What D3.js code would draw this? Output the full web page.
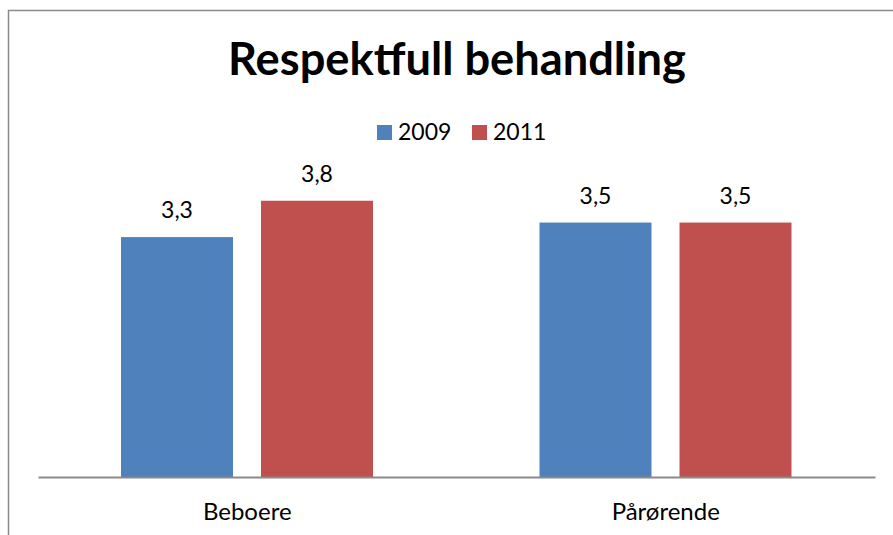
<!DOCTYPE html>
<html><head><meta charset="utf-8">
<script src="https://cdn.jsdelivr.net/npm/d3@7"></script>
<style>html,body{margin:0;padding:0;background:#fff;overflow:hidden}</style>
</head><body>
<svg id="c" width="893" height="535"></svg>
<script>
const title = "Respektfull behandling";
const categories = ["Beboere", "Pårørende"];
const seriesNames = ["2009", "2011"];
const values2009 = [3.3, 3.5];
const values2011 = [3.8, 3.5];
const colors = ["#4F81BD", "#C0504D"];

const svg = d3.select("#c");
const font = "Lato, 'Open Sans', sans-serif";

// outer border (extends beyond the frame on right/bottom)
svg.append("rect").attr("x", 8.5).attr("y", 10.5).attr("width", 900).attr("height", 600)
  .attr("fill", "#fff").attr("stroke", "#8a8a8a").attr("stroke-width", 1.5);

const plot = {left: 38, right: 875, bottom: 477};
const x0 = d3.scaleBand().domain(categories).range([plot.left, plot.right]).paddingInner(0).paddingOuter(0);
const x1 = d3.scaleBand().domain(seriesNames).range([83, 83 + 252]).paddingInner(28/140).paddingOuter(0);
const y = d3.scaleLinear().domain([0, 4.5]).range([plot.bottom, plot.bottom - 4.5 * 72.7]);

const data = categories.map((c, i) => ({cat: c, vals: [values2009[i], values2011[i]]}));

const g = svg.append("g");
const groups = g.selectAll("g.cat").data(data).join("g").attr("transform", d => `translate(${x0(d.cat)},0)`);
groups.selectAll("rect").data(d => d.vals.map((v, j) => ({s: seriesNames[j], v, j})))
  .join("rect")
  .attr("x", d => x1(d.s)).attr("width", x1.bandwidth())
  .attr("y", d => y(d.v)).attr("height", d => y(0) - y(d.v))
  .attr("fill", d => colors[d.j]);
groups.selectAll("text.lbl").data(d => d.vals.map((v, j) => ({s: seriesNames[j], v, j})))
  .join("text").attr("class", "lbl")
  .attr("x", d => x1(d.s) + x1.bandwidth() / 2).attr("y", d => y(d.v) - 19)
  .attr("text-anchor", "middle").attr("font-family", font).attr("font-size", 23)
  .text(d => d3.format(".1f")(d.v).replace(".", ","));

// axis baseline and category labels
const xAxis = d3.axisBottom(x0).tickSize(0).tickPadding(0);
const ax = svg.append("g").attr("transform", `translate(0,${plot.bottom})`).call(xAxis);
ax.select(".domain").attr("stroke", "#8a8a8a").attr("stroke-width", 2);
ax.selectAll(".tick text").attr("font-family", font).attr("font-size", 24).attr("fill", "#000")
  .attr("dy", 0).attr("y", 43);

// title
const t = svg.append("text").attr("x", 457).attr("y", 75).attr("text-anchor", "middle")
  .attr("font-family", font).attr("font-weight", "bold").attr("font-size", 46).text(title);
const tw = t.node().getComputedTextLength();
t.attr("font-size", 46 * 458 / tw);

// legend
const legX = [377, 472];
const leg = svg.append("g");
seriesNames.forEach((s, i) => {
  leg.append("rect").attr("x", legX[i]).attr("y", 125).attr("width", 15).attr("height", 15).attr("fill", colors[i]);
  leg.append("text").attr("x", legX[i] + 21).attr("y", 140).attr("font-family", font).attr("font-size", 23).text(s);
});
</script>
</body></html>
